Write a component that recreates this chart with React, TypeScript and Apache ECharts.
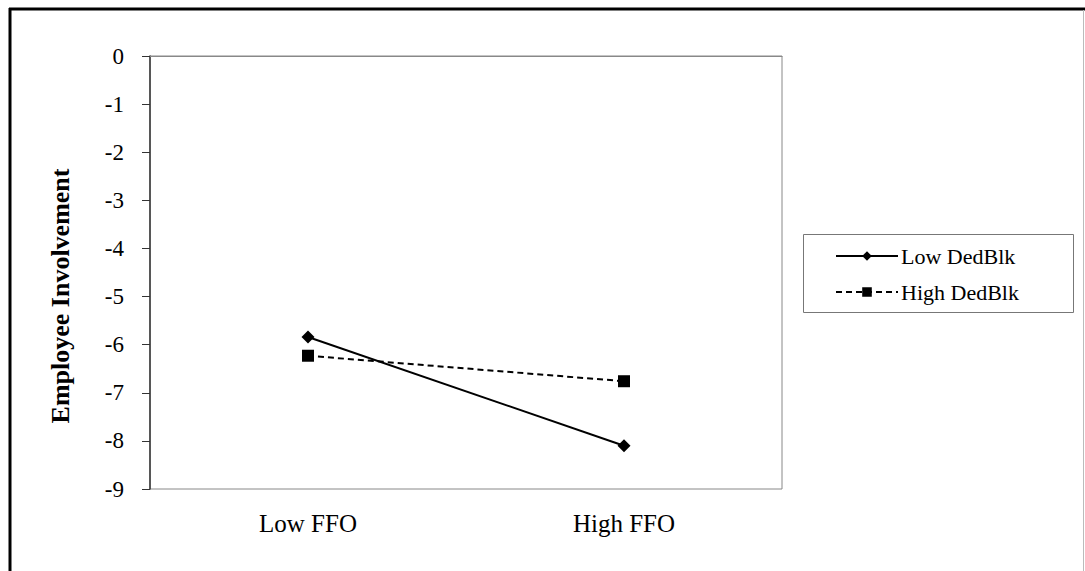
import React, { useEffect, useRef } from "react";
import * as echarts from "echarts";

const categories = ["Low FFO", "High FFO"];
const lowDedBlk = [-5.84, -8.1];
const highDedBlk = [-6.23, -6.76];
const seriesNames = ["Low DedBlk", "High DedBlk"];
const yAxisTitle = "Employee Involvement";

export default function App() {
  const ref = useRef<HTMLDivElement>(null);
  useEffect(() => {
    const chart = echarts.init(ref.current!, null, { renderer: "svg" });
    const font = "Liberation Serif";
    chart.setOption({
      animation: false,
      backgroundColor: "#fff",
      textStyle: { fontFamily: font },
      grid: {
        left: 150,
        top: 56,
        right: 303,
        bottom: 82,
        show: true,
        borderColor: "#888",
        borderWidth: 1,
      },
      legend: {
        orient: "vertical",
        left: 804,
        top: 235,
        padding: [10, 20, 10, 31],
        itemGap: 14,
        itemWidth: 62,
        itemHeight: 12,
        borderWidth: 0,
        textStyle: { fontFamily: font, fontSize: 22, color: "#000", padding: [0, 0, 0, -2] },
        data: seriesNames,
      },
      xAxis: {
        type: "category",
        data: categories,
        boundaryGap: true,
        axisLine: { lineStyle: { color: "#888", width: 1 } },
        axisTick: { show: false },
        axisLabel: { fontFamily: font, fontSize: 25, color: "#000", margin: 22 },
        splitLine: { show: false },
      },
      yAxis: {
        type: "value",
        min: -9,
        max: 0,
        interval: 1,
        axisLine: { show: true, lineStyle: { color: "#333", width: 1.5 } },
        axisTick: { show: true, length: 8, inside: false, lineStyle: { color: "#333" } },
        axisLabel: { fontFamily: font, fontSize: 23, color: "#000", margin: 26 },
        splitLine: { show: false },
      },
      series: [
        {
          name: seriesNames[0],
          type: "line",
          data: lowDedBlk,
          symbol: "diamond",
          symbolSize: 13,
          lineStyle: { color: "#000", width: 2, type: "solid" },
          itemStyle: { color: "#000" },
        },
        {
          name: seriesNames[1],
          type: "line",
          data: highDedBlk,
          symbol: "rect",
          symbolSize: 12,
          lineStyle: { color: "#000", width: 2, type: [6, 4] },
          itemStyle: { color: "#000" },
        },
      ],
      graphic: [
        { type: "line", shape: { x1: 9, y1: 9, x2: 1085, y2: 9 }, style: { stroke: "#000", lineWidth: 3 } },
        { type: "line", shape: { x1: 10, y1: 8, x2: 10, y2: 571 }, style: { stroke: "#000", lineWidth: 3 } },
        { type: "line", shape: { x1: 1083.5, y1: 10, x2: 1083.5, y2: 571 }, style: { stroke: "#bbb", lineWidth: 1 } },
        {
          type: "rect",
          shape: { x: 803.5, y: 234.5, width: 270, height: 78 },
          style: { fill: "none", stroke: "#777", lineWidth: 1 },
          silent: true,
        },
        {
          type: "text",
          x: 60,
          y: 296,
          rotation: Math.PI / 2,
          style: {
            text: yAxisTitle,
            fontFamily: font,
            fontSize: 26,
            fontWeight: "bold",
            fill: "#000",
            align: "center",
            verticalAlign: "middle",
          },
        },
      ],
    });
    return () => chart.dispose();
  }, []);
  return (
    <div
      ref={ref}
      style={{ position: "fixed", left: 0, top: 0, width: 1085, height: 571 }}
    />
  );
}
